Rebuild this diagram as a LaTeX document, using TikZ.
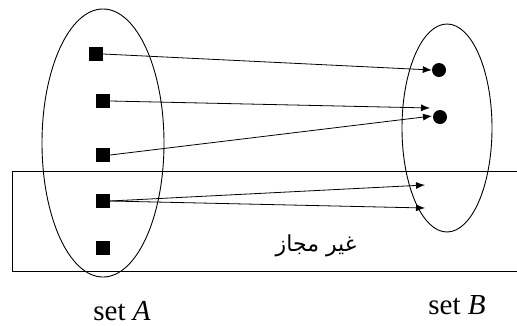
\documentclass[tikz,border=0pt]{standalone}
\usepackage{fontspec}
\setmainfont{Liberation Serif}
\newfontfamily\arabicfont[Script=Arabic]{DejaVu Sans}
\TeXXeTstate=1
\usetikzlibrary{arrows.meta}
\tikzset{
  elem/.style={fill=black, minimum width=14pt, minimum height=14pt, inner sep=0pt},
  pt/.style={circle, fill=black, minimum size=14pt, inner sep=0pt},
  setline/.style={line width=0.9pt},
  map/.style={line width=0.8pt, -{Latex[length=9pt,width=7pt]}},
  lbl/.style={font=\fontsize{29}{32}\selectfont, inner sep=0pt}
}
\begin{document}
\begin{tikzpicture}[x=1pt,y=-1pt]
\useasboundingbox (0,0) rectangle (517,325);
% sets
\draw[setline] (103,143) ellipse [x radius=61, y radius=134];
\draw[setline] (447,128) ellipse [x radius=45, y radius=104];
% region
\draw[setline] (520,171) -- (12,171) -- (12,271) -- (520,271);
% elements of A
\node[elem] (a1) at (96,54) {};
\node[elem] (a2) at (103,101) {};
\node[elem] (a3) at (103,155) {};
\node[elem] (a4) at (103,201) {};
\node[elem] (a5) at (103,248) {};
% elements of B
\node[pt] (b1) at (439,70) {};
\node[pt] (b2) at (440,117) {};
\coordinate (c1) at (425,185);
\coordinate (c2) at (425,208);
\coordinate (t2) at (430,108);
\coordinate (t3) at (432,116);
% mappings
\draw[map] (a1.east) -- (b1.west);
\draw[map] (a2.east) -- (t2);
\draw[map] (a3.east) -- (t3);
\draw[map] (a4.east) -- (c1);
\draw[map] (a4.east) -- (c2);
% labels
\node[font=\fontsize{22}{26}\selectfont, inner sep=0pt] (forbid) at (316,246) {\arabicfont\beginR غير مجاز\endR};
\node[lbl, anchor=base] (la) at (122,320) {set \textit{A}};
\node[lbl, anchor=base] (lb) at (457,314) {set \textit{B}};
\end{tikzpicture}
\end{document}
